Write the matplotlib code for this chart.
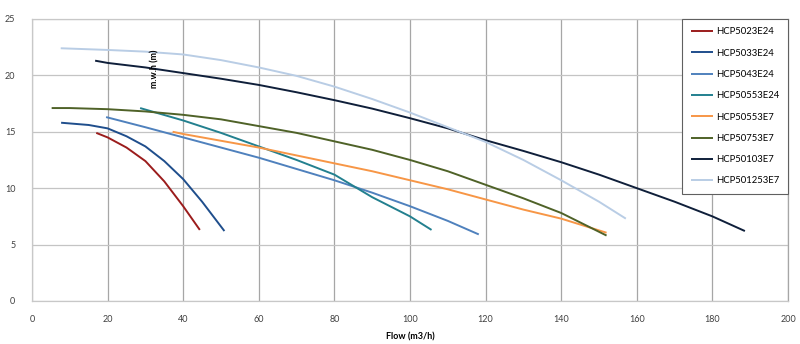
import matplotlib
matplotlib.use("Agg")
import matplotlib.pyplot as plt

plt.rcParams['font.family'] = ['Lato', 'DejaVu Sans']

# pump curves: flow (m3/h) vs head (m.w.h)
names = ["HCP5023E24", "HCP5033E24", "HCP5043E24", "HCP50553E24",
         "HCP50553E7", "HCP50753E7", "HCP50103E7", "HCP501253E7"]
colours = ["#9b1c1c", "#1f4e8c", "#4f81bd", "#23808f",
           "#f79646", "#4f6228", "#0f1f3a", "#b9cde5"]

q_5023 = [17, 20, 25, 30, 35, 40, 44.4]
h_5023 = [14.9, 14.5, 13.6, 12.4, 10.6, 8.4, 6.3]

q_5033 = [7.7, 15, 20, 25, 30, 35, 40, 45, 50.9]
h_5033 = [15.8, 15.6, 15.3, 14.6, 13.7, 12.4, 10.8, 8.8, 6.2]

q_5043 = [19.6, 30, 40, 50, 60, 70, 80, 90, 100, 110, 118.2]
h_5043 = [16.3, 15.4, 14.5, 13.6, 12.7, 11.7, 10.7, 9.6, 8.4, 7.1, 5.9]

q_50553e24 = [28.6, 40, 50, 60, 70, 80, 90, 100, 105.7]
h_50553e24 = [17.1, 16.0, 14.9, 13.7, 12.5, 11.2, 9.2, 7.5, 6.3]

q_50553e7 = [37.2, 40, 50, 60, 70, 80, 90, 100, 110, 120, 130, 140, 152]
h_50553e7 = [15.0, 14.8, 14.2, 13.6, 12.9, 12.2, 11.5, 10.7, 9.9, 9.0, 8.1, 7.3, 6.05]

q_50753 = [5.2, 10, 20, 30, 40, 50, 60, 70, 80, 90, 100, 110, 120, 130, 140, 152]
h_50753 = [17.1, 17.1, 17.0, 16.8, 16.5, 16.1, 15.5, 14.9, 14.15, 13.4, 12.5, 11.5, 10.3, 9.1, 7.8, 5.8]

q_50103 = [16.7, 20, 30, 40, 50, 60, 70, 80, 90, 100, 110, 120, 130, 140, 150, 160, 170, 180, 188.6]
h_50103 = [21.3, 21.1, 20.7, 20.2, 19.7, 19.15, 18.5, 17.8, 17.05, 16.2, 15.3, 14.25, 13.3, 12.3, 11.2, 10.0, 8.8, 7.5, 6.2]

q_501253 = [7.6, 20, 30, 40, 50, 60, 70, 80, 90, 100, 110, 120, 130, 140, 150, 157.1]
h_501253 = [22.4, 22.25, 22.1, 21.85, 21.35, 20.7, 19.95, 19.0, 17.9, 16.7, 15.4, 14.1, 12.5, 10.7, 8.8, 7.3]

flows = [q_5023, q_5033, q_5043, q_50553e24, q_50553e7, q_50753, q_50103, q_501253]
heads = [h_5023, h_5033, h_5043, h_50553e24, h_50553e7, h_50753, h_50103, h_501253]

x_ticks = list(range(0, 201, 20))
y_ticks = list(range(0, 26, 5))

fig = plt.figure(figsize=(8, 3.44), dpi=100)
ax = fig.add_axes([0.04, 0.125, 0.945, 0.82])

for q, h, name, c in zip(flows, heads, names, colours):
    ax.plot(q, h, color=c, lw=1.4, label=name, solid_capstyle='butt')

ax.set_xlim(0, 200)
ax.set_ylim(0, 25)
ax.set_xticks(x_ticks)
ax.set_yticks(y_ticks)
ax.tick_params(length=0, labelsize=6.5, colors="#404040")
ax.tick_params(axis='x', pad=10)
ax.tick_params(axis='y', pad=12)

# vertical grid darker than the horizontal one
ax.xaxis.grid(True, color="#a6a6a6", lw=0.9)
ax.yaxis.grid(True, color="#c4c4c4", lw=0.9)
ax.set_axisbelow(True)
for side in ax.spines.values():
    side.set_color("#c8c8c8")
    side.set_linewidth(0.9)
ax.spines['right'].set_color("#a6a6a6")

ax.set_xlabel("Flow (m3/h)", fontsize=6.5, fontweight='bold', labelpad=6)
ax.text(0.163, 0.823, "m.w.h (m)", transform=ax.transAxes, rotation=90,
        ha='center', va='center', fontsize=6.5, fontweight='bold')

leg = ax.legend(loc='upper right', borderaxespad=0, fontsize=6.8,
                labelspacing=1.3, handlelength=2.4, handletextpad=0.3,
                borderpad=0.9, fancybox=False, framealpha=1)
leg.get_frame().set_edgecolor("#606060")
leg.get_frame().set_linewidth(0.8)

fig.savefig("out.png", dpi=100)
